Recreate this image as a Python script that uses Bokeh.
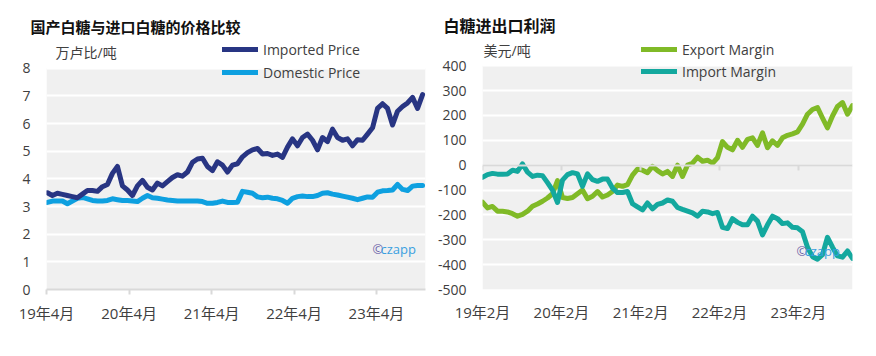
import pandas as pd
from bokeh.plotting import figure
from bokeh.models import (Range1d, FixedTicker, CustomJSTickFormatter, PrintfTickFormatter,
                          Label, Legend, LegendItem, DatetimeAxis, BoxAnnotation, Title)
from bokeh.layouts import row
from bokeh.embed import file_html
from bokeh.resources import INLINE

FONT = "'Open Sans', 'Noto Sans CJK SC', sans-serif"

# ---------------- data: left chart (万卢比/吨) ----------------
left_start, left_end = "2019-04-05", "2023-10-22"
imported_price = [3.50, 3.40, 3.48, 3.44, 3.40, 3.36, 3.32, 3.45, 3.58, 3.58,
                  3.55, 3.72, 3.80, 4.20, 4.45, 3.75, 3.60, 3.40, 3.75, 3.95,
                  3.70, 3.60, 3.85, 3.75, 3.90, 4.05, 4.15, 4.10, 4.25, 4.60,
                  4.72, 4.75, 4.45, 4.30, 4.62, 4.50, 4.25, 4.50, 4.55, 4.80,
                  4.95, 5.05, 5.10, 4.90, 4.92, 4.85, 4.90, 4.78, 5.15, 5.45,
                  5.20, 5.50, 5.62, 5.40, 5.05, 5.50, 5.35, 5.80, 5.50, 5.40,
                  5.45, 5.20, 5.42, 5.40, 5.62, 5.85, 6.55, 6.72, 6.55, 5.95,
                  6.45, 6.62, 6.75, 6.95, 6.55, 7.05]
domestic_price = [3.15, 3.20, 3.20, 3.20, 3.10, 3.20, 3.30, 3.33, 3.28, 3.22,
                  3.20, 3.20, 3.22, 3.28, 3.25, 3.22, 3.22, 3.20, 3.18, 3.30,
                  3.40, 3.32, 3.30, 3.27, 3.24, 3.22, 3.20, 3.20, 3.20, 3.20,
                  3.20, 3.18, 3.12, 3.12, 3.15, 3.20, 3.15, 3.15, 3.16, 3.55,
                  3.52, 3.48, 3.35, 3.32, 3.34, 3.30, 3.28, 3.22, 3.12, 3.30,
                  3.36, 3.38, 3.36, 3.36, 3.40, 3.48, 3.50, 3.45, 3.42, 3.38,
                  3.34, 3.30, 3.25, 3.30, 3.35, 3.34, 3.52, 3.57, 3.58, 3.60,
                  3.80, 3.62, 3.58, 3.74, 3.76, 3.76]
left_tick_dates = ["2019-04-01", "2020-04-01", "2021-04-01", "2022-04-01", "2023-04-01"]
left_tick_labels = ["19年4月", "20年4月", "21年4月", "22年4月", "23年4月"]
left_y_ticks = [0, 1, 2, 3, 4, 5, 6, 7, 8]

# ---------------- data: right chart (美元/吨) ----------------
right_start, right_end = "2019-02-01", "2023-10-09"
export_margin = [-149, -172, -166, -185, -185, -188, -195, -205, -198, -185,
                 -165, -156, -145, -132, -115, -62, -130, -134, -130, -115,
                 -100, -135, -125, -106, -128,
                 -120, -106, -80, -85, -78, -40, -16, -20, -30, -5,
                 -22, -35, -25, -45, 0, -45, 0, 8, 32, 16,
                 20, 8, 30, 95, 72,
                 62, 100, 72, 104, 110, 80, 130, 70, 98, 80,
                 110, 120, 126, 134, 165, 205, 224, 232, 190, 150,
                 198, 236, 252, 205, 240]
import_margin = [-49, -38, -33, -36, -36, -35, -20, -25, 5, -28,
                 -45, -40, -42, -70, -100, -150, -60, -38, -30, -35,
                 -85, -35, -58, -65, -56,
                 -56, -92, -110, -110, -106, -155, -168, -180, -152, -176,
                 -158, -152, -140, -145, -170, -178, -185, -192, -205, -185,
                 -188, -195, -190, -250, -255,
                 -215, -230, -240, -240, -205, -225, -280, -240, -205, -215,
                 -235, -232, -250, -252, -268, -330, -368, -378, -360, -290,
                 -330, -365, -370, -345, -375]
right_tick_dates = ["2019-02-01", "2020-02-01", "2021-02-01", "2022-02-01", "2023-02-01"]
right_tick_labels = ["19年2月", "20年2月", "21年2月", "22年2月", "23年2月"]
right_y_ticks = [-500, -400, -300, -200, -100, 0, 100, 200, 300, 400]

# ---------------- helpers ----------------
def ms(s):
    return pd.Timestamp(s).value / 1e6

TICK_JS = """
let best = 0, bd = Infinity;
for (let i = 0; i < tv.length; i++) { const d = Math.abs(tv[i] - tick); if (d < bd) { bd = d; best = i; } }
return tl[best];
"""

def base_fig(w, x0, x1, y0, y1, ytop, bl, br, bt, bb):
    p = figure(width=w, height=356, x_axis_type="datetime", output_backend="svg",
               toolbar_location=None,
               x_range=Range1d(pd.Timestamp(x0), pd.Timestamp(x1)), y_range=Range1d(y0, ytop),
               min_border_left=bl, min_border_right=br, min_border_top=bt, min_border_bottom=bb)
    p.outline_line_color = None
    p.background_fill_color = "white"
    p.border_fill_color = "white"
    # grey plotting area spanning the value axis domain
    p.add_layout(BoxAnnotation(bottom=y0, top=y1, fill_color="#f0f0f0", fill_alpha=1,
                               line_color=None, level="image"))
    p.xgrid.grid_line_color = None
    p.ygrid.grid_line_color = "white"
    p.ygrid.grid_line_width = 2
    p.yaxis.axis_line_color = None
    p.yaxis.major_tick_line_color = None
    p.yaxis.minor_tick_line_color = None
    p.yaxis.major_label_text_font = FONT
    p.yaxis.major_label_text_font_size = "14px"
    p.yaxis.major_label_text_color = "#404040"
    p.yaxis.major_label_standoff = 10
    p.yaxis.formatter = PrintfTickFormatter(format="%d")
    p.xaxis.minor_tick_line_color = None
    p.xaxis.major_label_text_font = FONT
    p.xaxis.major_label_text_font_size = "15px"
    p.xaxis.major_label_text_color = "#404040"
    return p

def add_text(p, x, y, text, size, color):
    p.add_layout(Label(x=x, y=y, x_units="screen", y_units="screen", text=text,
                       text_font=FONT, text_font_size=size, text_color=color,
                       text_baseline="middle", text_align="left"))

def add_legend(p, items, loc, spacing):
    lg = Legend(items=items, location=loc, orientation="vertical", padding=0, margin=0,
                spacing=spacing, glyph_width=36, glyph_height=20, label_height=20,
                label_standoff=5, label_text_font=FONT, label_text_font_size="14px",
                label_text_color="#404040", border_line_color=None, background_fill_alpha=0)
    p.add_layout(lg)

def set_title(p, text, size, offset):
    p.title = Title(text=text, align="left", offset=offset, standoff=4,
                    text_font=FONT, text_font_size=size, text_font_style="bold",
                    text_color="#111111")

# ---------------- left chart ----------------
ldates = pd.date_range(left_start, left_end, periods=len(imported_price))
p1 = base_fig(430, "2019-04-01", "2023-11-04", 0, 8, 9.08, 46, 5, 38, 66)
p1.yaxis.ticker = FixedTicker(ticks=left_y_ticks)
p1.xaxis.ticker = FixedTicker(ticks=[ms(d) for d in left_tick_dates])
p1.xaxis.formatter = CustomJSTickFormatter(args=dict(tv=[ms(d) for d in left_tick_dates],
                                                     tl=left_tick_labels), code=TICK_JS)
p1.xaxis.axis_line_color = "#d9d9d9"
p1.xaxis.axis_line_width = 2
p1.xaxis.major_tick_line_color = "#d9d9d9"
p1.xaxis.major_tick_line_width = 2
p1.xaxis.major_tick_out = 5
p1.xaxis.major_tick_in = 0
p1.xaxis.major_label_standoff = 8

r_dom = p1.line(ldates, domestic_price, line_color="#0ea0e0", line_width=5,
                line_cap="round", line_join="round")
r_imp = p1.line(ldates, imported_price, line_color="#283583", line_width=5,
                line_cap="round", line_join="round")
add_legend(p1, [LegendItem(label="Imported Price", renderers=[r_imp]),
                LegendItem(label="Domestic Price", renderers=[r_dom])], (176, 207), 3)
set_title(p1, "国产白糖与进口白糖的价格比较", "15px", -16)
add_text(p1, 9, 237, "万卢比/吨", "14px", "#404040")
add_text(p1, 326, 41, "©", "13px", "#6a5fa8")
add_text(p1, 334, 41, "czapp", "13px", "#3aa0e0")

# ---------------- right chart ----------------
rdates = pd.date_range(right_start, right_end, periods=len(export_margin))
p2 = base_fig(446, "2019-02-01", "2023-10-09", -500, 400, 509.6, 52, 24, 37, 67)
p2.yaxis.ticker = FixedTicker(ticks=right_y_ticks)
rticks = [ms(d) for d in right_tick_dates]
p2.xaxis.ticker = FixedTicker(ticks=rticks)
p2.xaxis.formatter = CustomJSTickFormatter(args=dict(tv=rticks, tl=right_tick_labels), code=TICK_JS)
p2.xaxis.axis_line_color = None
p2.xaxis.major_tick_line_color = None
p2.xaxis.major_tick_out = 0
p2.xaxis.major_tick_in = 0
p2.xaxis.major_label_standoff = 12

zero_axis = DatetimeAxis(fixed_location=0, ticker=FixedTicker(ticks=rticks),
                         formatter=CustomJSTickFormatter(code="return '';"),
                         axis_line_color="#d9d9d9", axis_line_width=2,
                         major_tick_line_color="#d9d9d9", major_tick_line_width=2,
                         major_tick_in=0, major_tick_out=5, minor_tick_line_color=None,
                         major_label_text_font_size="0px", major_label_standoff=0)
p2.add_layout(zero_axis, "below")

r_exp = p2.line(rdates, export_margin, line_color="#80ba27", line_width=5,
                line_cap="round", line_join="round")
r_impm = p2.line(rdates, import_margin, line_color="#13a89e", line_width=5,
                 line_cap="round", line_join="round")
add_legend(p2, [LegendItem(label="Export Margin", renderers=[r_exp]),
                LegendItem(label="Import Margin", renderers=[r_impm])], (159, 208), 2)
set_title(p2, "白糖进出口利润", "16px", -39)
add_text(p2, 1, 239, "美元/吨", "14px", "#404040")
add_text(p2, 314, 39, "©", "13px", "#6a5fa8")
add_text(p2, 322, 39, "czapp", "13px", "#3aa0e0")

layout = row(p1, p2, spacing=0)
open("out.html", "w").write(file_html(layout, INLINE))
